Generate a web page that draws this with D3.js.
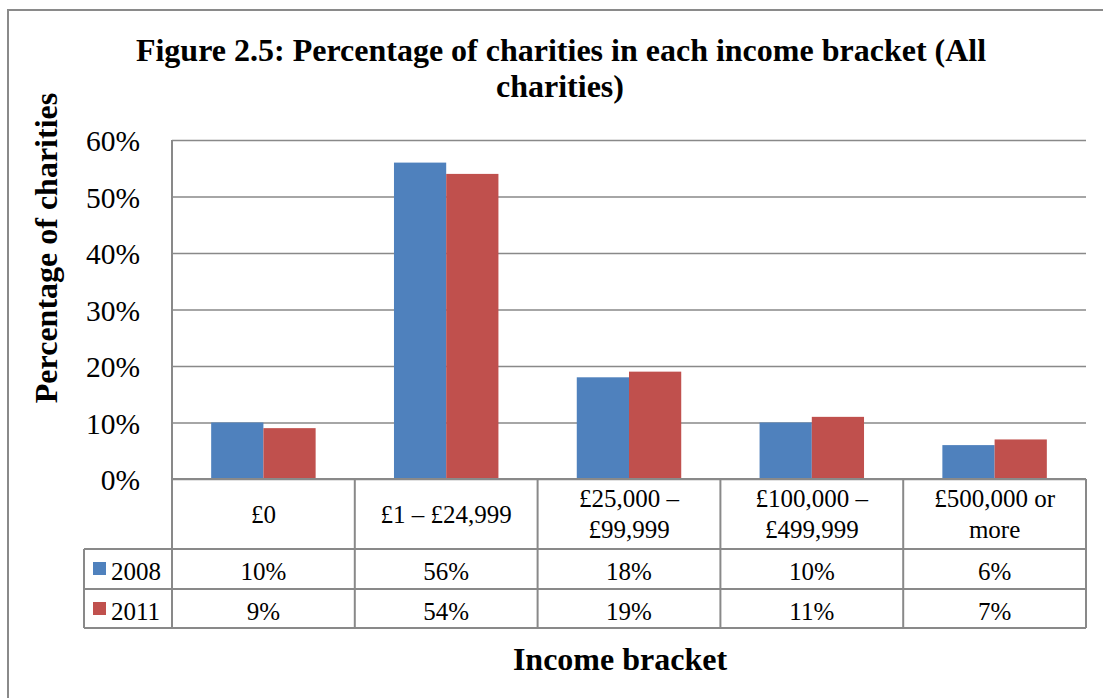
<!DOCTYPE html>
<html>
<head>
<meta charset="utf-8">
<script src="https://cdn.jsdelivr.net/npm/d3@7"></script>
<style>
  html, body { margin: 0; padding: 0; background: #fff; }
  svg { display: block; }
  text { font-family: "Liberation Serif", "Times New Roman", serif; fill: #000; }
</style>
</head>
<body>
<svg id="chart" width="1103" height="698"></svg>
<script>
// Income brackets (two-line labels split with "\n")
const categories = ["£0", "£1 – £24,999", "£25,000 –\n£99,999", "£100,000 –\n£499,999", "£500,000 or\nmore"];
const seriesNames = ["2008", "2011"];
const values2008 = [0.10, 0.56, 0.18, 0.10, 0.06];
const values2011 = [0.09, 0.54, 0.19, 0.11, 0.07];
const yTicks = [0, 0.1, 0.2, 0.3, 0.4, 0.5, 0.6];
const colors = ["#4F81BD", "#C0504D"];

const seriesValues = [values2008, values2011];
const svg = d3.select("#chart");
const gridColor = "#898989";

const plot = { left: 172, right: 1086, top: 140, bottom: 479 };
const rowY = [479, 549, 589, 628];
const legendLeft = 84;

// Outer chart border
svg.append("rect")
  .attr("x", 8).attr("y", 10).attr("width", 1120).attr("height", 720)
  .attr("fill", "none").attr("stroke", "#8a8a8a").attr("stroke-width", 2);

// Title
svg.append("text").attr("x", 561).attr("y", 61).attr("text-anchor", "middle")
  .attr("font-size", 32).attr("font-weight", "bold")
  .text("Figure 2.5: Percentage of charities in each income bracket (All");
svg.append("text").attr("x", 560).attr("y", 97).attr("text-anchor", "middle")
  .attr("font-size", 32).attr("font-weight", "bold")
  .text("charities)");

// Scales
const y = d3.scaleLinear().domain([0, 0.6]).range([plot.bottom, plot.top]);
const x0 = d3.scaleBand().domain(categories).range([plot.left, plot.right]).paddingInner(0).paddingOuter(0);
const step = x0.bandwidth();
const gap = 0.75 * step / 3.5;
const x1 = d3.scaleBand().domain(seriesNames).range([gap, step - gap]).padding(0);

// Gridlines via axis
const yAxis = d3.axisLeft(y).tickValues(yTicks).tickSize(-(plot.right - plot.left)).tickFormat("");
const gAxis = svg.append("g").attr("transform", `translate(${plot.left},0)`).call(yAxis);
gAxis.select(".domain").remove();
gAxis.selectAll(".tick line").attr("stroke", gridColor).attr("stroke-width", 1.5);

// Y tick labels
svg.append("g").selectAll("text").data(yTicks).join("text")
  .attr("x", 140).attr("y", d => y(d) + 11)
  .attr("text-anchor", "end").attr("font-size", 29.5)
  .text(d => d3.format(".0%")(d));

// Bars
const groups = svg.append("g").selectAll("g").data(categories).join("g")
  .attr("transform", d => `translate(${x0(d)},0)`);
groups.selectAll("rect")
  .data((d, i) => seriesNames.map((s, j) => ({ s, v: seriesValues[j][i], j })))
  .join("rect")
  .attr("x", d => x1(d.s))
  .attr("width", x1.bandwidth())
  .attr("y", d => y(d.v))
  .attr("height", d => y(0) - y(d.v))
  .attr("fill", d => colors[d.j]);

// Data table lines
const tbl = svg.append("g").attr("stroke", gridColor).attr("stroke-width", 2).attr("fill", "none");
// Value axis line continues through the table
tbl.append("line").attr("x1", plot.left).attr("x2", plot.left).attr("y1", plot.top).attr("y2", rowY[3]);
tbl.append("line").attr("x1", plot.left).attr("x2", plot.right).attr("y1", rowY[0]).attr("y2", rowY[0]);
[1, 2, 3].forEach(r => {
  tbl.append("line").attr("x1", legendLeft).attr("x2", plot.right).attr("y1", rowY[r]).attr("y2", rowY[r]);
});
tbl.append("line").attr("x1", legendLeft).attr("x2", legendLeft).attr("y1", rowY[1]).attr("y2", rowY[3]);
categories.forEach(c => {
  const xr = x0(c) + step;
  tbl.append("line").attr("x1", xr).attr("x2", xr).attr("y1", rowY[0]).attr("y2", rowY[3]);
});

// Category header labels
categories.forEach(c => {
  const lines = c.split("\n");
  const cx = x0(c) + step / 2;
  const baselines = lines.length === 1 ? [523] : [506.5, 538];
  lines.forEach((ln, k) => {
    svg.append("text").attr("x", cx).attr("y", baselines[k]).attr("text-anchor", "middle")
      .attr("font-size", 25).text(ln);
  });
});

// Series rows: legend keys, names, values
seriesNames.forEach((s, j) => {
  const top = rowY[j + 1];
  svg.append("rect").attr("x", 93).attr("y", top + 13).attr("width", 13).attr("height", 13)
    .attr("fill", colors[j]);
  svg.append("text").attr("x", 111).attr("y", top + 30.5).attr("font-size", 25).text(s);
  categories.forEach((c, i) => {
    svg.append("text").attr("x", x0(c) + step / 2).attr("y", top + 30.5)
      .attr("text-anchor", "middle").attr("font-size", 25)
      .text(d3.format(".0%")(seriesValues[j][i]));
  });
});

// Axis titles
svg.append("text").attr("transform", "translate(57,248) rotate(-90)")
  .attr("text-anchor", "middle").attr("font-size", 32).attr("font-weight", "bold")
  .text("Percentage of charities");
svg.append("text").attr("x", 620).attr("y", 670).attr("text-anchor", "middle")
  .attr("font-size", 32).attr("font-weight", "bold")
  .text("Income bracket");
</script>
</body>
</html>
